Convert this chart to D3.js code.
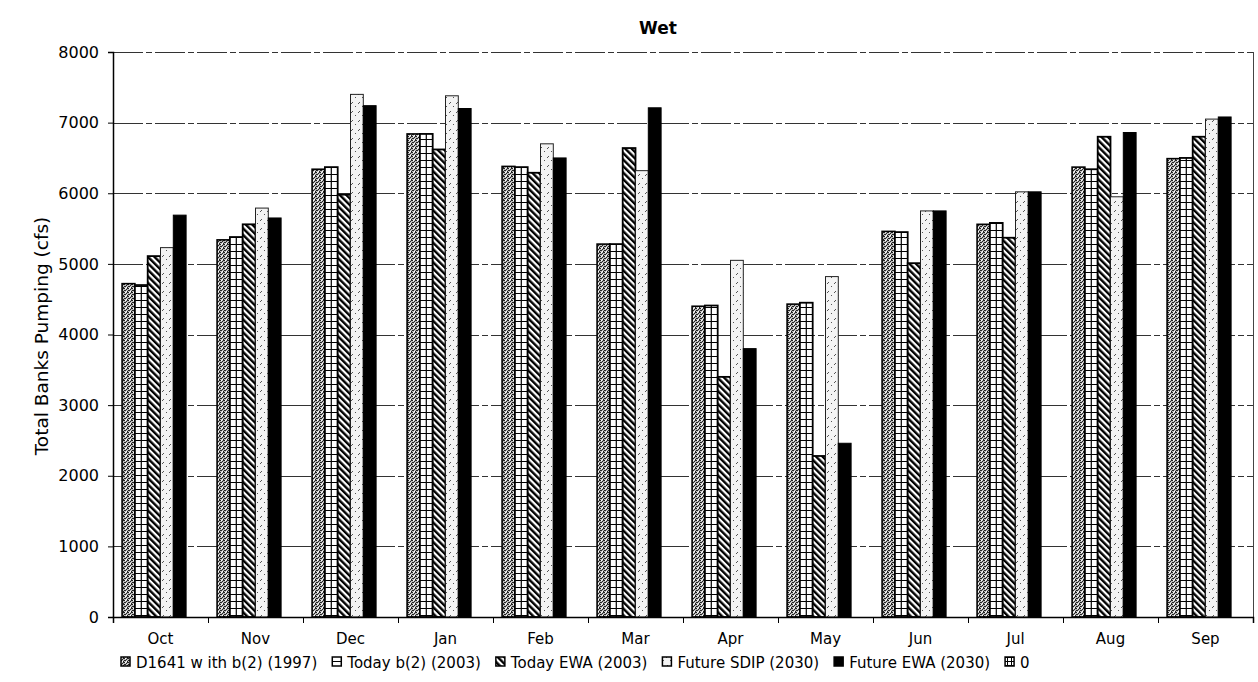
<!DOCTYPE html>
<html><head><meta charset="utf-8">
<script src="https://cdn.jsdelivr.net/npm/d3@7"></script>
<style>body{margin:0;background:#fff}svg{display:block;font-family:"DejaVu Sans",Arial,sans-serif}</style>
</head><body><svg id="c" width="1258" height="682"></svg>
<script>
const months = ["Oct","Nov","Dec","Jan","Feb","Mar","Apr","May","Jun","Jul","Aug","Sep"];
const seriesNames = ["D1641 w ith b(2) (1997)","Today b(2) (2003)","Today EWA (2003)","Future SDIP (2030)","Future EWA (2030)","0"];
const d1641      = [4720,5340,6340,6840,6380,5280,4400,4430,5460,5560,6370,6490];
const todayB2    = [4700,5380,6370,6840,6370,5280,4410,4450,5450,5580,6340,6500];
const todayEWA   = [5110,5560,5980,6620,6290,6640,3400,2280,5010,5370,6800,6800];
const futureSDIP = [5230,5790,7400,7380,6700,6320,5050,4820,5750,6020,5950,7050];
const futureEWA  = [5690,5650,7240,7200,6500,7210,3800,2460,5750,6020,6860,7080];
const zeroSeries = [0,0,0,0,0,0,0,0,0,0,0,0];
const yTicks = [0,1000,2000,3000,4000,5000,6000,7000,8000];
const title = "Wet";
const yLabel = "Total Banks Pumping (cfs)";

const allSeries = [d1641,todayB2,todayEWA,futureSDIP,futureEWA,zeroSeries];
const fills = ["url(#pStip)","url(#pGrid)","url(#pDiag)","url(#pSdip)","#000","url(#pBox)"];
const strokes = ["#000","#000","#000","#222","#000","#000"];
const sw = [1.6,1.8,1.8,1,1,1];
const FONT = "DejaVu Sans, Verdana, sans-serif";

const svg = d3.select("#c");
const L=113,R=1253,T=52,B=617;
const defs = svg.append("defs");
// stipple
let p = defs.append("pattern").attr("id","pStip").attr("patternUnits","userSpaceOnUse").attr("width",4).attr("height",4);
p.append("rect").attr("width",4).attr("height",4).attr("fill","#bdbdbd");
[[0,0],[2,1],[1,2],[3,3],[0,2],[3,0]].forEach(([a,b])=>p.append("rect").attr("x",a).attr("y",b).attr("width",1).attr("height",1).attr("fill","#222"));
[[1,0],[2,3]].forEach(([a,b])=>p.append("rect").attr("x",a).attr("y",b).attr("width",1).attr("height",1).attr("fill","#fff"));
// grid horizontal lines
p = defs.append("pattern").attr("id","pGrid").attr("patternUnits","userSpaceOnUse").attr("width",10).attr("height",7);
p.append("rect").attr("width",10).attr("height",7).attr("fill","#fff");
p.append("rect").attr("y",6).attr("width",10).attr("height",1.2).attr("fill","#000");
// diagonal
p = defs.append("pattern").attr("id","pDiag").attr("patternUnits","userSpaceOnUse").attr("width",4.6).attr("height",10).attr("patternTransform","rotate(-45)");
p.append("rect").attr("width",4.6).attr("height",10).attr("fill","#fff");
p.append("rect").attr("width",2.4).attr("height",10).attr("fill","#000");
// sdip
p = defs.append("pattern").attr("id","pSdip").attr("patternUnits","userSpaceOnUse").attr("width",7).attr("height",9);
p.append("rect").attr("width",7).attr("height",9).attr("fill","#f4f4f4");
p.append("line").attr("x1",1).attr("y1",5).attr("x2",3).attr("y2",3).attr("stroke","#444").attr("stroke-width",0.9);
p.append("rect").attr("x",5).attr("y",7).attr("width",1).attr("height",1).attr("fill","#555");
// box (legend for "0")
p = defs.append("pattern").attr("id","pBox").attr("patternUnits","userSpaceOnUse").attr("width",4).attr("height",4);
p.append("rect").attr("width",4).attr("height",4).attr("fill","#fff");
p.append("rect").attr("x",3).attr("width",1).attr("height",4).attr("fill","#000");
p.append("rect").attr("y",3).attr("width",4).attr("height",1).attr("fill","#000");

const y = d3.scaleLinear().domain([0,8000]).range([B,T]);
const x0 = d3.scaleBand().domain(months).range([L,R]).padding(0);
const x1 = d3.scaleBand().domain(d3.range(6)).range([0,x0.bandwidth()]).paddingInner(0).paddingOuter(0.71);
const xb = d3.scaleLinear().domain([0,12]).range([L,R]);

// gridlines
svg.append("g").selectAll("line").data(yTicks.slice(1)).join("line")
  .attr("x1",L).attr("x2",R).attr("y1",d=>Math.round(y(d))+0.5).attr("y2",d=>Math.round(y(d))+0.5)
  .attr("stroke","#333").attr("stroke-width",1).attr("stroke-dasharray","30,3,6,3");
// right border
svg.append("line").attr("x1",R+0.5).attr("x2",R+0.5).attr("y1",T).attr("y2",B).attr("stroke","#444");

// bars
const gBars = svg.append("g");
allSeries.forEach((vals,si)=>{
  const g = gBars.append("g");
  g.selectAll("rect").data(vals.map((v,i)=>({m:months[i],v}))).join("rect")
    .attr("x",d=>x0(d.m)+x1(si)).attr("width",x1.bandwidth())
    .attr("y",d=>y(d.v)).attr("height",d=>B-y(d.v))
    .attr("fill",fills[si]).attr("stroke",d=>d.v>0?strokes[si]:"none").attr("stroke-width",sw[si]);
  if(si===1){
    g.selectAll("line").data(vals.map((v,i)=>({m:months[i],v}))).join("line")
      .attr("x1",d=>x0(d.m)+x1(si)+x1.bandwidth()/2).attr("x2",d=>x0(d.m)+x1(si)+x1.bandwidth()/2)
      .attr("y1",d=>y(d.v)).attr("y2",B).attr("stroke","#000").attr("stroke-width",1.2);
  }
});

// y axis
const ya = svg.append("g").attr("transform",`translate(${L},0)`)
  .call(d3.axisLeft(y).tickValues(yTicks).tickSize(5).tickPadding(9).tickFormat(d3.format("d")));
ya.select(".domain").attr("stroke","#000").attr("stroke-width",1.5);
ya.selectAll("text").attr("font-size",16).attr("font-family",FONT).attr("fill","#000");
// x axis ticks
const xa = svg.append("g").attr("transform",`translate(0,${B})`)
  .call(d3.axisBottom(xb).tickValues(d3.range(13)).tickSize(6).tickFormat(""));
xa.select(".domain").attr("stroke","#000").attr("stroke-width",1.5);
const xl = svg.append("g").attr("transform",`translate(0,${B})`)
  .call(d3.axisBottom(x0).tickSize(0).tickPadding(16));
xl.select(".domain").remove();
xl.selectAll("text").attr("font-size",15).attr("font-family",FONT).attr("fill","#000");

// title
svg.append("text").attr("x",658).attr("y",34).attr("text-anchor","middle").attr("font-weight","bold").attr("font-size",17).attr("font-family",FONT).text(title);
svg.append("text").attr("transform","translate(48,336) rotate(-90)").attr("text-anchor","middle").attr("font-size",18.5).attr("font-family",FONT).text(yLabel);

// legend
const lg = svg.append("g").attr("transform","translate(0,662)");
let cx = 121;
seriesNames.forEach((n,si)=>{
  lg.append("rect").attr("x",cx).attr("y",-5).attr("width",9).attr("height",9)
    .attr("fill",fills[si]).attr("stroke","#000").attr("stroke-width",1.5);
  const t = lg.append("text").attr("x",cx+15).attr("y",5.5).attr("font-size",15).attr("font-family",FONT).text(n);
  cx += 15 + t.node().getComputedTextLength() + 15;
});
</script></body></html>
